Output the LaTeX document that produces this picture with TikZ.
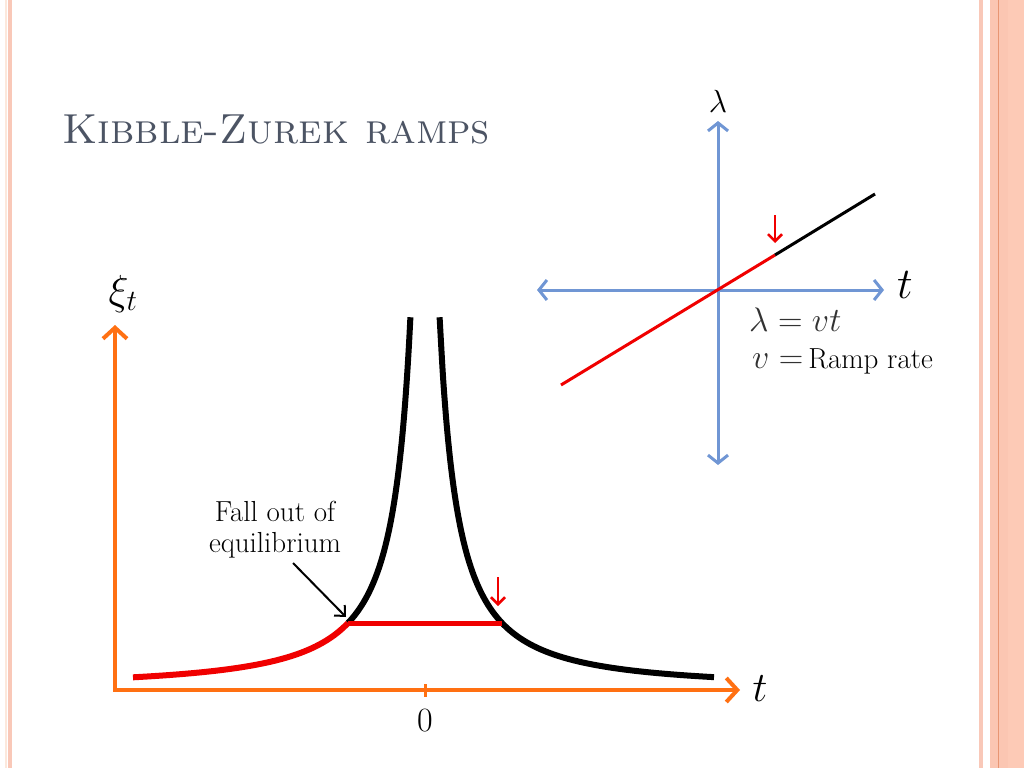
\RequirePackage{fix-cm}
\documentclass[tikz,border=0pt]{standalone}
\usetikzlibrary{arrows.meta}
\definecolor{titlec}{RGB}{76,84,100}
\definecolor{axo}{RGB}{255,112,18}
\definecolor{axb}{RGB}{112,150,212}
\definecolor{redc}{RGB}{240,0,0}
\definecolor{eqc}{RGB}{50,50,50}
\definecolor{bordA}{RGB}{252,232,220}
\definecolor{bordB}{RGB}{249,200,184}
\definecolor{bordC}{RGB}{251,198,178}
\definecolor{bordD}{RGB}{253,202,182}
\definecolor{bordE}{RGB}{232,150,115}
\tikzset{
  declare function={hh(\d)=55.2*exp(1.4*ln(100/(\d+11)));},
  orangeax/.style={draw=axo, line width=4pt, line join=miter,
     {Straight Barb[length=11pt,width=24pt,line width=4pt]}-{Straight Barb[length=11pt,width=24pt,line width=4pt]}},
  blueax/.style={draw=axb, line width=3pt,
     {Straight Barb[length=8pt,width=20pt,line width=3pt]}-{Straight Barb[length=8pt,width=20pt,line width=3pt]}},
  curveblack/.style={draw=black, line width=6pt},
  curvered/.style={draw=redc, line width=6pt},
  rampline/.style={line width=3pt},
  redarrow/.style={draw=redc, line width=2.5pt, -{Straight Barb[length=7pt,width=14pt,line width=2.5pt]}},
  lbl/.style={inner sep=0pt, text=black},
}
\begin{document}
\begin{tikzpicture}[x=1pt,y=-1pt]
\useasboundingbox (0,0) rectangle (1024,768);
\fill[white] (0,0) rectangle (1024,768);
% slide borders
\fill[bordA] (5,0) rectangle (6.5,768);
\fill[bordB] (8,0) rectangle (12,768);
\fill[bordB] (979,0) rectangle (983,768);
\fill[bordC] (990,0) rectangle (1024,768);
\fill[bordD] (1008,0) rectangle (1024,768);
\draw[bordE, line width=1pt] (998.5,0) -- (998.5,768);

% title
\node[anchor=base west, inner sep=0pt, text=titlec, font=\fontsize{42}{48}\selectfont] (title) at (62,143) {\textsc{Kibble-Zurek ramps}};

% ---- main graph ----
\coordinate (ytip) at (115,325);
\coordinate (orig) at (115,690);
\coordinate (xtip) at (740,690);
\draw[orangeax] (ytip) -- (orig) -- (xtip);
\coordinate (tick0) at (425,684);
\coordinate (tick1) at (425,697);
\draw[axo, line width=3pt] (tick0) -- (tick1);
\node[lbl, font=\fontsize{34}{38}\selectfont] (zero) at (425,721) {$0$};
\node[lbl, font=\fontsize{42}{46}\selectfont] (tlab) at (760,689) {$t$};
\node[lbl, font=\fontsize{42}{46}\selectfont] (xilab) at (123,294) {$\xi_t$};

% curve
\draw[curveblack] plot[smooth, domain=77:14.6, samples=60] ({425-\x},{689-hh(\x)});
\draw[curveblack] plot[smooth, domain=14.6:289, samples=80] ({425+\x},{689-hh(\x)});
\draw[curvered] plot[smooth, domain=292:77, samples=60] ({425-\x},{689-hh(\x)});
\coordinate (fo) at (348,623);
\coordinate (fi) at (502,623);
\draw[redc, line width=5pt] (fo) -- (fi);
\coordinate (ra1) at (498,577);
\coordinate (ra2) at (498,606);
\draw[redarrow] (ra1) -- (ra2);

% annotation
\node[lbl, align=center, font=\fontsize{29}{31}\selectfont] (fall) at (275,530) {Fall out of\\equilibrium};
\coordinate (fs) at (293,563);
\draw[black, line width=2pt, -{Straight Barb[length=8pt,width=15pt,line width=2pt]}] (fs) -- (346,617);

% ---- top right ramp ----
\coordinate (o2) at (718,290);
\coordinate (vt) at (718,121);
\coordinate (vb) at (718,465);
\coordinate (hl) at (537,290);
\coordinate (hr) at (884,290);
\draw[blueax] (vt) -- (vb);
\draw[blueax] (hl) -- (hr);
\node[lbl, font=\fontsize{32}{36}\selectfont] (lam) at (718,101) {$\lambda$};
\node[lbl, font=\fontsize{44}{48}\selectfont] (t2) at (905,285) {$t$};
\coordinate (rs) at (561,385);
\coordinate (rm) at (775,255);
\coordinate (re) at (875,194);
\draw[rampline, redc] (rs) -- (rm);
\draw[rampline, black] (rm) -- (re);
\coordinate (rb1) at (775,215);
\coordinate (rb2) at (775,243);
\draw[redarrow] (rb1) -- (rb2);
\node[lbl, anchor=base west, text=eqc, font=\fontsize{34}{38}\selectfont] (eq1) at (749,331) {$\lambda = vt$};
\node[lbl, anchor=base west, font=\fontsize{29}{32}\selectfont] (eq2) at (752,368) {\textcolor{eqc}{\fontsize{34}{38}\selectfont$v=$}\,Ramp rate};
\end{tikzpicture}
\end{document}
